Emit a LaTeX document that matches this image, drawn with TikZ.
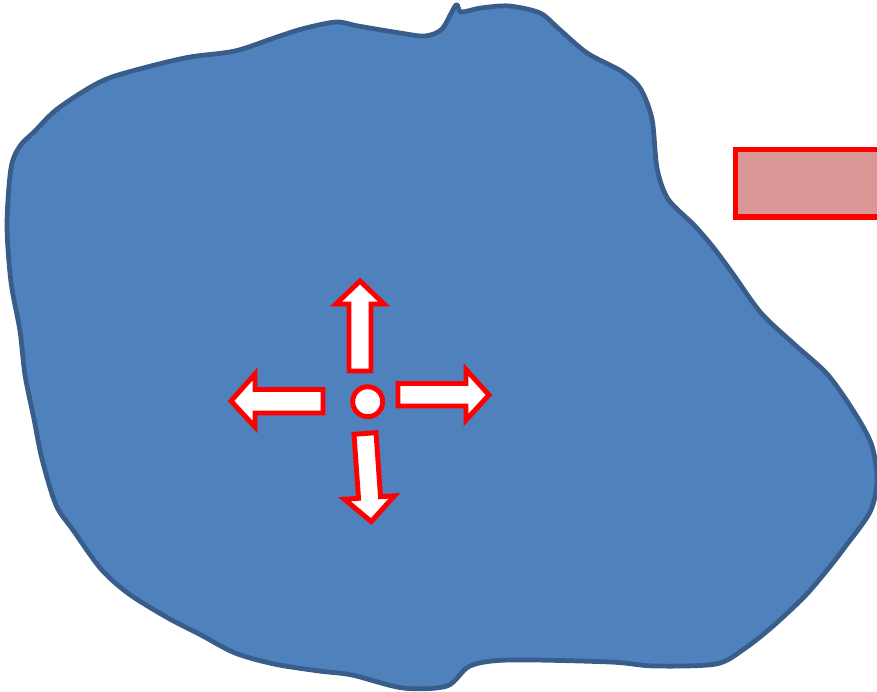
\documentclass[tikz,border=0pt]{standalone}
\definecolor{cblob}{HTML}{4F81BD}
\definecolor{cblobline}{HTML}{385D8A}
\definecolor{cpink}{HTML}{D99694}
\definecolor{cred}{HTML}{FF0000}
\tikzset{
  blob/.style={fill=cblob, draw=cblobline, line width=2.7pt, line join=round},
  blockarrow/.style={fill=white, draw=cred, line width=2.8pt, line join=miter},
  wall/.style={fill=cpink, draw=cred, line width=3pt},
}
\begin{document}
\begin{tikzpicture}[x=0.02cm, y=-0.02cm]
  \useasboundingbox (0,0) rectangle (877,692);
  \clip (0,0) rectangle (877,692);
  % the blob
  \draw[blob] plot[smooth cycle, tension=0.5] coordinates {
    (456,5) (461,12) (481,8) (509,6) (540,13) (559,29) (587,53) (621,71) (640,88)
    (652,119) (657,168) (668,199) (694,225) (713,247) (733,274) (761,313) (794,344)
    (828,375) (856,415) (872,446) (877,481) (870,512) (845,547) (828,569) (805,596)
    (772,627) (744,649) (716,664) (654,666) (610,662) (509,660) (470,666) (447,686)
    (403,688) (352,675) (319,671) (274,664) (235,653) (201,635) (168,618) (129,594)
    (101,569) (73,530) (56,505) (42,459) (34,419) (25,375) (20,331) (11,282) (7,225)
    (11,168) (20,146) (34,132) (56,110) (89,88) (112,77) (151,66) (190,57) (235,51)
    (274,38) (302,29) (336,22) (358,26) (400,33) (425,36) (442,29)};
  % wall at the right edge
  \draw[wall] (735.5,149.5) rectangle (900,217);
  % centre point and the four arrows
  \draw[blockarrow] (367.7,401.7) circle (15);
  \draw[blockarrow] (349,371) -- (349,304) -- (336,304) -- (360,281) -- (384,304) -- (371,304) -- (371,371) -- cycle;
  \draw[blockarrow] (323,389.5) -- (255,389.5) -- (255,374) -- (231,401) -- (255,427) -- (255,413) -- (323,413) -- cycle;
  \draw[blockarrow] (398,383.5) -- (466,383.5) -- (466,369.5) -- (489,395) -- (466,420) -- (466,406) -- (398,406) -- cycle;
  \draw[blockarrow] (354,434.3) -- (358.5,498.3) -- (344.5,499.3) -- (371.2,521.5) -- (394.5,495.8) -- (380.5,496.7) -- (376,432.7) -- cycle;
\end{tikzpicture}
\end{document}
